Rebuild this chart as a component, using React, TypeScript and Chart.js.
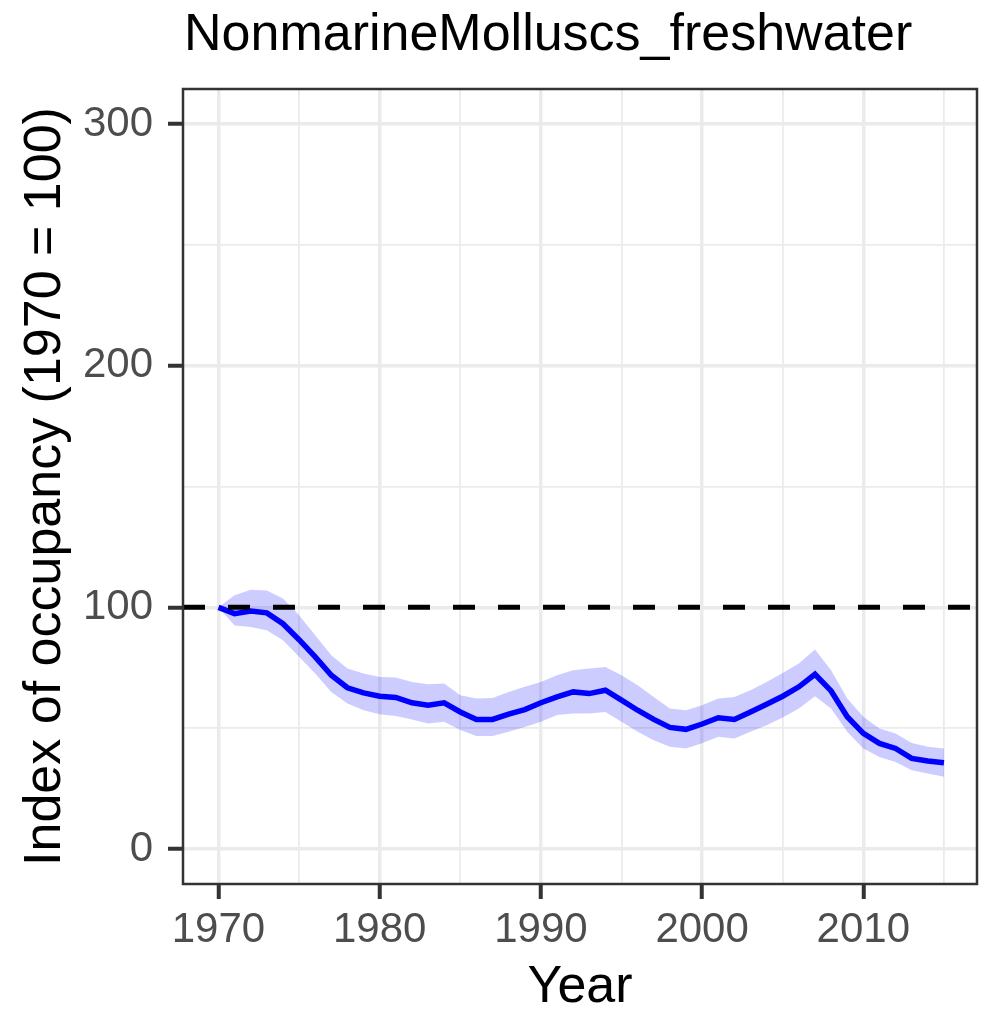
import React, { useEffect, useRef } from 'react';
import { Chart, registerables } from 'chart.js';

Chart.register(...registerables);

const years = [
  1970, 1971, 1972, 1973, 1974, 1975, 1976, 1977, 1978, 1979,
  1980, 1981, 1982, 1983, 1984, 1985, 1986, 1987, 1988, 1989,
  1990, 1991, 1992, 1993, 1994, 1995, 1996, 1997, 1998, 1999,
  2000, 2001, 2002, 2003, 2004, 2005, 2006, 2007, 2008, 2009,
  2010, 2011, 2012, 2013, 2014, 2015,
];

const indexValues = [
  100, 97.4, 98.5, 97.7, 93.2, 86.6, 79.5, 71.9, 66.7, 64.6,
  63.2, 62.7, 60.5, 59.5, 60.5, 56.7, 53.6, 53.6, 55.8, 57.7,
  60.5, 62.9, 65.0, 64.3, 65.7, 61.6, 57.4, 53.6, 50.3, 49.5,
  51.7, 54.3, 53.6, 56.7, 59.9, 63.2, 67.1, 72.3, 65.4, 54.7,
  47.8, 43.7, 41.6, 37.5, 36.4, 35.7,
];

const upperValues = [
  100, 105, 107.3, 107, 103.6, 96.7, 88.4, 80.2, 74.7, 72.6,
  71.2, 71.0, 69.1, 68.2, 68.5, 63.6, 62.3, 62.5, 65.0, 67.1,
  69.1, 71.9, 74.0, 74.7, 75.3, 71.9, 67.8, 62.9, 58.1, 57.4,
  59.5, 62.3, 62.9, 65.7, 69.1, 72.8, 76.7, 82.5, 74.0, 62.3,
  54.7, 49.8, 47.8, 43.9, 42.3, 41.6,
];

const lowerValues = [
  100, 92.5, 91.9, 90.5, 86.4, 79.5, 72.6, 65.0, 60.2, 57.4,
  55.8, 55.0, 53.6, 51.9, 52.6, 49.2, 46.7, 46.7, 48.5, 50.5,
  52.6, 55.4, 56.1, 56.1, 56.7, 52.6, 48.5, 45.0, 42.3, 41.6,
  43.7, 46.4, 45.7, 48.5, 51.2, 54.4, 58.1, 63.2, 58.1, 48.5,
  41.6, 38.1, 36.0, 32.6, 31.2, 29.9,
];

const xMajorTicks = [1970, 1980, 1990, 2000, 2010];
const xMinorTicks = [1975, 1985, 1995, 2005, 2015];
const yMajorTicks = [0, 100, 200, 300];
const yMinorTicks = [50, 150, 250];
const baselineValue = 100;

const titleText = 'NonmarineMolluscs_freshwater';
const xTitleText = 'Year';
const yTitleText = 'Index of occupancy (1970 = 100)';

const FONT = '"Liberation Sans", Arial, Helvetica, sans-serif';

export default function App() {
  const canvasRef = useRef<HTMLCanvasElement>(null);

  useEffect(() => {
    const canvas = canvasRef.current;
    if (!canvas) return;

    const xMin = 1967.8;
    const xMax = 2017.05;
    const yMin = -14.5;
    const yMax = 314.5;

    const textPlugin = {
      id: 'ggText',
      afterDraw(chart: any) {
        const { ctx, chartArea } = chart;
        ctx.save();
        ctx.strokeStyle = '#333333';
        ctx.lineWidth = 2.5;
        ctx.strokeRect(
          chartArea.left,
          chartArea.top,
          chartArea.right - chartArea.left,
          chartArea.bottom - chartArea.top
        );
        ctx.fillStyle = '#000000';
        ctx.font = `52px ${FONT}`;
        ctx.textBaseline = 'alphabetic';
        ctx.textAlign = 'left';
        ctx.fillText(titleText, chartArea.left + 1, 50);
        ctx.textAlign = 'center';
        ctx.fillText(xTitleText, (chartArea.left + chartArea.right) / 2, 1002);
        ctx.translate(60, (chartArea.top + chartArea.bottom) / 2);
        ctx.rotate(-Math.PI / 2);
        ctx.fillText(yTitleText, 0, 0);
        ctx.restore();
      },
    };

    const chart = new Chart(canvas, {
      type: 'line',
      data: {
        datasets: [
          {
            label: 'baseline',
            data: [
              { x: xMin, y: baselineValue },
              { x: xMax, y: baselineValue },
            ],
            borderColor: '#000000',
            borderWidth: 5,
            borderDash: [22, 23],
            pointRadius: 0,
            fill: false,
            order: 0,
          },
          {
            label: 'index',
            data: years.map((yr, i) => ({ x: yr, y: indexValues[i] })),
            borderColor: '#0000FF',
            borderWidth: 5.5,
            pointRadius: 0,
            tension: 0,
            fill: false,
            order: 1,
          },
          {
            label: 'upper',
            data: years.map((yr, i) => ({ x: yr, y: upperValues[i] })),
            borderColor: 'rgba(0,0,0,0)',
            borderWidth: 0,
            backgroundColor: 'rgba(0,0,255,0.2)',
            pointRadius: 0,
            tension: 0,
            fill: '+1',
            order: 2,
          },
          {
            label: 'lower',
            data: years.map((yr, i) => ({ x: yr, y: lowerValues[i] })),
            borderColor: 'rgba(0,0,0,0)',
            borderWidth: 0,
            pointRadius: 0,
            tension: 0,
            fill: false,
            order: 3,
          },
        ],
      },
      options: {
        animation: false,
        responsive: false,
        maintainAspectRatio: false,
        layout: { padding: { left: 0, right: 7, top: 89, bottom: 0 } },
        plugins: {
          legend: { display: false },
          tooltip: { enabled: false },
          title: { display: false },
        },
        scales: {
          x: {
            type: 'linear',
            min: xMin,
            max: xMax,
            afterBuildTicks: (scale: any) => {
              scale.ticks = [...xMajorTicks, ...xMinorTicks]
                .sort((a, b) => a - b)
                .map((v) => ({ value: v }));
            },
            afterFit: (scale: any) => {
              scale.height = 1011 - 884;
            },
            ticks: {
              autoSkip: false,
              maxRotation: 0,
              minRotation: 0,
              padding: 6,
              color: '#4D4D4D',
              font: { family: FONT, size: 42 },
              callback: (v: any) => (xMajorTicks.includes(Number(v)) ? String(v) : ''),
            },
            grid: {
              color: '#EBEBEB',
              lineWidth: (ctx: any) =>
                ctx.tick && xMajorTicks.includes(ctx.tick.value) ? 3.5 : 1.8,
              drawTicks: true,
              tickLength: 15,
              tickWidth: 4,
              tickColor: (ctx: any) =>
                ctx.tick && xMajorTicks.includes(ctx.tick.value) ? '#333333' : 'rgba(0,0,0,0)',
            },
            border: { display: false },
          },
          y: {
            type: 'linear',
            min: yMin,
            max: yMax,
            afterBuildTicks: (scale: any) => {
              scale.ticks = [...yMajorTicks, ...yMinorTicks]
                .sort((a, b) => a - b)
                .map((v) => ({ value: v }));
            },
            afterFit: (scale: any) => {
              scale.width = 183;
            },
            ticks: {
              autoSkip: false,
              padding: 15,
              color: '#4D4D4D',
              font: { family: FONT, size: 42 },
              callback: (v: any) => (yMajorTicks.includes(Number(v)) ? String(v) : ''),
            },
            grid: {
              color: '#EBEBEB',
              lineWidth: (ctx: any) =>
                ctx.tick && yMajorTicks.includes(ctx.tick.value) ? 3.5 : 1.8,
              drawTicks: true,
              tickLength: 15,
              tickWidth: 4,
              tickColor: (ctx: any) =>
                ctx.tick && yMajorTicks.includes(ctx.tick.value) ? '#333333' : 'rgba(0,0,0,0)',
            },
            border: { display: false },
          },
        },
      },
      plugins: [textPlugin],
    });

    return () => {
      chart.destroy();
    };
  }, []);

  return (
    <div style={{ position: 'fixed', left: 0, top: 0, width: 984, height: 1011, background: '#FFFFFF' }}>
      <canvas ref={canvasRef} width={984} height={1011} style={{ width: 984, height: 1011, display: 'block' }} />
    </div>
  );
}
